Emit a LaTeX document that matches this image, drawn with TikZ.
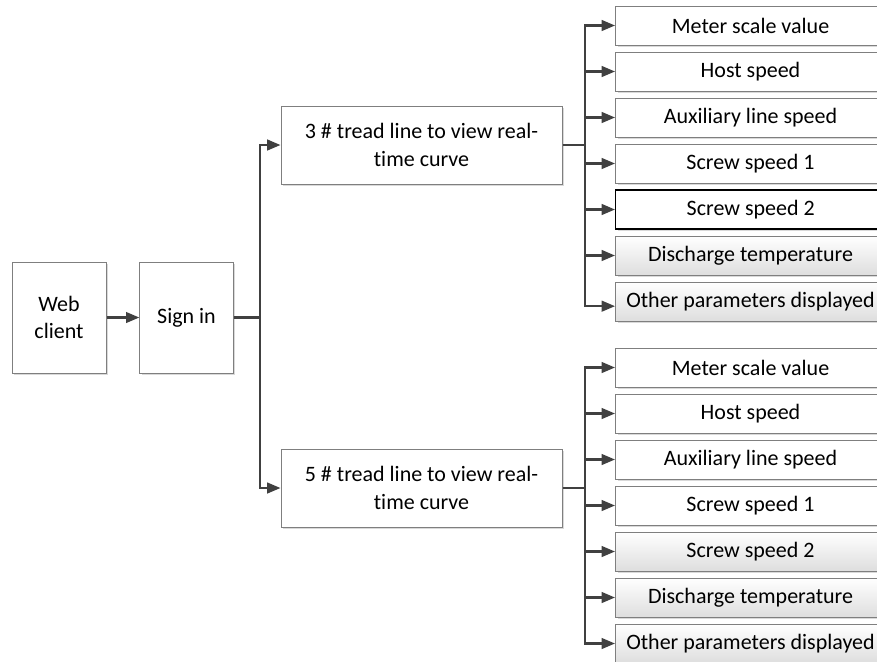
\documentclass[tikz,border=0pt]{standalone}
\usepackage{fontspec}
\setmainfont{Carlito}[Ligatures = NoCommon]
\usetikzlibrary{arrows.meta,shadows}

\definecolor{linegray}{HTML}{404040}
\definecolor{edgegray}{HTML}{7F7F7F}

\tikzset{box/.style = {shape = rectangle,
                       draw = edgegray,
                       fill = white,
                       line width = 0.75pt,
                       align = center,
                       inner sep = 0pt,
                       font = \fontsize{16.5}{20.5}\selectfont,
                       drop shadow = {shadow xshift = 1.5pt,
                                      shadow yshift = -1.5pt,
                                      fill = black!15,
                                      opacity = 1}},
         leaf/.style = {box,
                        anchor = west,
                        minimum width = 202.5pt,
                        minimum height = 29.25pt},
         shadeleaf/.style = {leaf,
                             top color = white,
                             bottom color = black!13},
         boldleaf/.style = {leaf,
                            draw = black,
                            line width = 1.1pt},
         link/.style = {draw = linegray,
                        line width = 1.6pt,
                        -{Triangle[length = 10pt, width = 8pt]}}}

\begin{document}
\begin{tikzpicture}[x = 0.75pt, y = -0.75pt]
		\useasboundingbox (0,0) rectangle (877,661);
		\clip (0,0) rectangle (877,661);
		\node[box, minimum width = 70.5pt, minimum height = 83.25pt] (web) at (59,317.5) {Web\\client};
		\node[box, minimum width = 70pt, minimum height = 83.25pt] (sign) at (186.5,317.5) {Sign in};
		\node[box, minimum width = 210.75pt, minimum height = 58.5pt] (t3) at (421.5,145) {3 \# tread line to view real-\\time curve};
		\node[box, minimum width = 210.75pt, minimum height = 58.5pt] (t5) at (421.5,488) {5 \# tread line to view real-\\time curve};
		% line 3 outputs
		\node[leaf] (a1) at (615,25.5) {Meter scale value};
		\node[leaf] (a2) at (615,71.5) {Host speed};
		\node[leaf] (a3) at (615,117.5) {Auxiliary line speed};
		\node[leaf] (a4) at (615,163.5) {Screw speed 1};
		\node[boldleaf] (a5) at (615,209.5) {Screw speed 2};
		\node[shadeleaf] (a6) at (615,255.5) {Discharge temperature};
		\node[shadeleaf] (a7) at (615,301.5) {Other parameters displayed};
		% line 5 outputs
		\node[leaf] (b1) at (615,367.5) {Meter scale value};
		\node[leaf] (b2) at (615,413.5) {Host speed};
		\node[leaf] (b3) at (615,459.5) {Auxiliary line speed};
		\node[leaf] (b4) at (615,505.5) {Screw speed 1};
		\node[shadeleaf] (b5) at (615,551.5) {Screw speed 2};
		\node[shadeleaf] (b6) at (615,597.5) {Discharge temperature};
		\node[shadeleaf] (b7) at (615,643.5) {Other parameters displayed};
		\path[link] (web) -- (sign);
		\draw[linegray, line width = 1.6pt] (sign.east) -- (260,317.5) coordinate (s);
		\path[link] (s) |- (t3.west);
		\path[link] (s) |- (t5.west);
		\draw[linegray, line width = 1.6pt] (t3.east) -- (585,145) coordinate (p);
		\draw[linegray, line width = 1.6pt] (t5.east) -- (585,488) coordinate (q);
		\foreach \i in {1,...,6} {
			\path[link] (p) |- (a\i.west);
		}
		\path[link] (p) |- ([yshift = -3.5pt]a7.west);
		\foreach \i in {1,...,7} {
			\path[link] (q) |- (b\i.west);
		}
	\end{tikzpicture}
\end{document}
